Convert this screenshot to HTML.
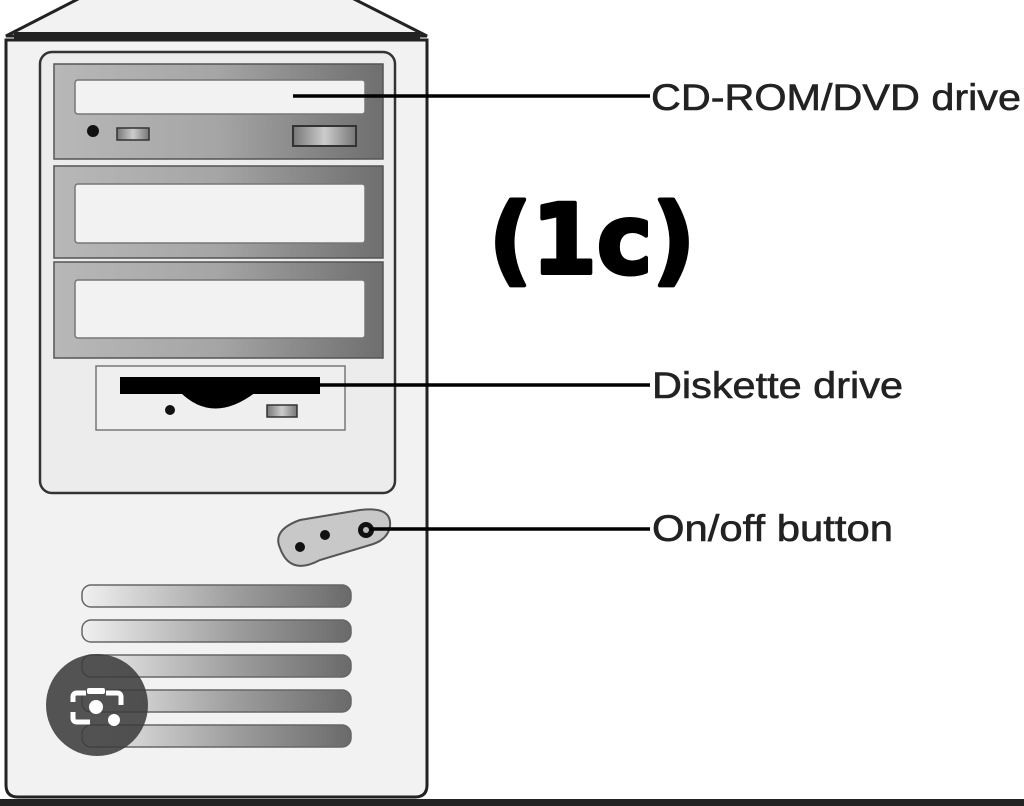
<!DOCTYPE html>
<html><head><meta charset="utf-8"><style>
html,body{margin:0;padding:0;background:#fff;}
svg{display:block;}
</style></head><body>
<svg width="1024" height="806" viewBox="0 0 1024 806" xmlns="http://www.w3.org/2000/svg">
<defs>
<linearGradient id="bay" x1="0" y1="0" x2="1" y2="0">
<stop offset="0" stop-color="#b8b8b8"/><stop offset="0.5" stop-color="#a5a5a5"/><stop offset="1" stop-color="#6e6e6e"/>
</linearGradient>
<linearGradient id="vent" x1="0" y1="0" x2="1" y2="0">
<stop offset="0" stop-color="#f0f0f0"/><stop offset="0.55" stop-color="#a0a0a0"/><stop offset="1" stop-color="#6a6a6a"/>
</linearGradient>
<linearGradient id="btn" x1="0" y1="0" x2="1" y2="0">
<stop offset="0" stop-color="#777"/><stop offset="0.5" stop-color="#ccc"/><stop offset="1" stop-color="#777"/>
</linearGradient>
</defs>
<rect width="1024" height="806" fill="#fff"/>
<polygon points="6,36 80,-2 352,-2 427,36" fill="#f2f2f2" stroke="#222" stroke-width="3"/>
<rect x="14" y="32" width="406" height="8" fill="#222"/>
<path d="M6,40 L427,40 L427,785 Q427,797 415,797 L18,797 Q6,797 6,785 Z" fill="#f2f2f2" stroke="#222" stroke-width="3"/>
<rect x="0" y="799" width="1024" height="7" fill="#222"/>
<rect x="40" y="52" width="355" height="441" rx="12" fill="#ececec" stroke="#333" stroke-width="2.5"/>
<rect x="54" y="64" width="329" height="95" fill="url(#bay)" stroke="#555" stroke-width="1.5"/>
<rect x="54" y="166" width="329" height="92" fill="url(#bay)" stroke="#555" stroke-width="1.5"/>
<rect x="54" y="262" width="329" height="96" fill="url(#bay)" stroke="#555" stroke-width="1.5"/>
<rect x="75" y="80" width="290" height="34" rx="3" fill="#f2f2f2" stroke="#777" stroke-width="1.5"/>
<rect x="75" y="184" width="290" height="59" rx="3" fill="#f2f2f2" stroke="#777" stroke-width="1.5"/>
<rect x="75" y="280" width="290" height="58" rx="3" fill="#f2f2f2" stroke="#777" stroke-width="1.5"/>
<circle cx="93" cy="131" r="6" fill="#111"/>
<rect x="117" y="128" width="32" height="12" fill="url(#btn)" stroke="#333" stroke-width="1.5"/>
<rect x="293" y="126" width="63" height="20" fill="url(#btn)" stroke="#333" stroke-width="2"/>
<rect x="96" y="366" width="249" height="64" fill="#efefef" stroke="#777" stroke-width="1.5"/>
<rect x="120" y="377" width="200" height="17" fill="#000"/>
<path d="M180,392 Q213,425 256,392 Z" fill="#000"/>
<circle cx="170" cy="410" r="5" fill="#111"/>
<rect x="267" y="405" width="30" height="12" fill="url(#btn)" stroke="#333" stroke-width="1.5"/>
<path d="M280,548 Q272,530 300,520 L360,510 Q392,506 390,526 Q388,540 370,545 L320,560 Q290,576 280,548 Z" fill="#c8c8c8" stroke="#555" stroke-width="2"/>
<circle cx="300" cy="547" r="5" fill="#111"/>
<circle cx="325" cy="535" r="5" fill="#111"/>
<circle cx="366" cy="530" r="8" fill="#111"/>
<circle cx="366" cy="530" r="3" fill="#bbb"/>
<g stroke="#666" stroke-width="1.5" fill="url(#vent)">
<rect x="82" y="585" width="269" height="22" rx="9"/>
<rect x="82" y="620" width="269" height="22" rx="9"/>
<rect x="82" y="655" width="269" height="22" rx="9"/>
<rect x="82" y="690" width="269" height="22" rx="9"/>
<rect x="82" y="725" width="269" height="22" rx="9"/>
</g>
<circle cx="97" cy="705" r="51" fill="#3c3c3c" fill-opacity="0.88"/>
<path d="M86,693 L77,693 Q73,693 73,697 L73,702 M73,712 L73,718 Q73,722 77,722 L90,722 M106,693 L117,693 Q121,693 121,697 L121,705" stroke="#fff" stroke-width="5" fill="none"/>
<rect x="87" y="688" width="18" height="6" rx="2" fill="#fff"/>
<circle cx="96" cy="707" r="7" fill="#fff"/>
<circle cx="114" cy="720" r="6" fill="#fff"/>
<g stroke="#000" stroke-width="3.5">
<line x1="293" y1="96" x2="650" y2="96"/>
<line x1="318" y1="385" x2="650" y2="385"/>
<line x1="370" y1="529" x2="650" y2="529"/>
</g>
<g font-family="Liberation Sans, sans-serif" font-size="37" fill="#222" stroke="#222" stroke-width="0.6">
<text x="651" y="110" textLength="370" lengthAdjust="spacingAndGlyphs">CD-ROM/DVD drive</text>
<text x="652" y="398" textLength="251" lengthAdjust="spacingAndGlyphs">Diskette drive</text>
<text x="652" y="541" textLength="241" lengthAdjust="spacingAndGlyphs">On/off button</text>
</g>
<text x="489" y="273" font-family="DejaVu Sans, sans-serif" font-weight="bold" font-size="96" fill="#000" stroke="#000" stroke-width="4" stroke-linejoin="round" textLength="206" lengthAdjust="spacingAndGlyphs">(1c)</text>
</svg>
</body></html>
